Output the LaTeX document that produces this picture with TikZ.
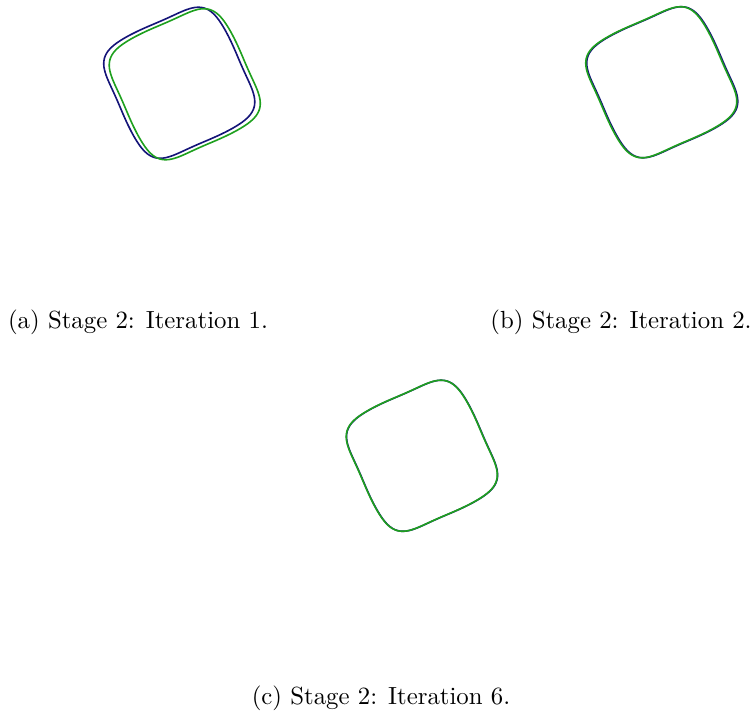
\documentclass[tikz,border=0pt]{standalone}
\usepackage{xcolor}
\definecolor{curveblue}{RGB}{20,20,120}
\definecolor{curvegreen}{RGB}{30,160,30}
\newcommand\drawloop[4]{%
  \draw[#1] plot[variable=\t, domain=0:358, samples=180, smooth cycle]
    ({#2+rr(\t,#4)*cos(\t)}, {#3+rr(\t,#4)*sin(\t)});}
\begin{document}
\begin{tikzpicture}[x=0.4032pt,y=0.4032pt,
  declare function={
    gw(\t,\th)=(\t-\th)-3*(sin(2*(\t-\th)))^2;
    rr(\t,\th)=64/((abs(cos(gw(\t,\th))))^5+(abs(sin(gw(\t,\th))))^5)^(0.2);},
  curve/.style={line width=0.65pt, line join=round},
  bluec/.style={curve, draw=curveblue},
  greenc/.style={curve, draw=curvegreen},
  captext/.style={anchor=base, inner sep=0pt, font=\normalsize}]
\useasboundingbox (0,0) rectangle (753,713);
% (a)
\drawloop{bluec}{179.25}{630.25}{23}
\drawloop{greenc}{184.75}{628.75}{23}
\node[captext] (capa) at (138,385) {(a) Stage 2: Iteration 1.};
% (b)
\drawloop{bluec}{662.25}{630.75}{23}
\drawloop{greenc}{661.25}{630.75}{23}
\node[captext] (capb) at (621,385) {(b) Stage 2: Iteration 2.};
% (c)
\drawloop{bluec}{422.05}{257.25}{23}
\drawloop{greenc}{421.75}{257.25}{23}
\node[captext] (capc) at (381,9) {(c) Stage 2: Iteration 6.};
\end{tikzpicture}
\end{document}
